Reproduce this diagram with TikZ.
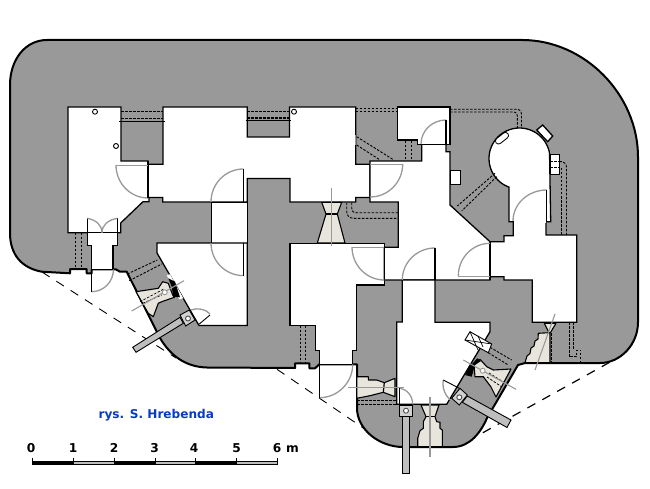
\documentclass[tikz,border=0pt]{standalone}
\usepackage{fontspec}
\setmainfont{DejaVu Sans}
\definecolor{wallgray}{HTML}{999999}
\definecolor{beige}{HTML}{E8E6DC}
\definecolor{bargray}{HTML}{BEBEBE}
\definecolor{signblue}{HTML}{0A3CC0}
\newcommand\doorq[6]{\draw[doorarc] (#1,#2) .. controls ({#1+.5523*(#5-#3)},{#2+.5523*(#6-#4)}) and ({#5+.5523*(#1-#3)},{#6+.5523*(#2-#4)}) .. (#5,#6);}
\tikzset{
 outerw/.style={fill=wallgray,draw=black,line width=2pt,line join=round},
 roomw/.style={fill=white,draw=black,line width=1.3pt,line join=miter},
 thinw/.style={draw=black,line width=1.2pt},
 doorarc/.style={draw=wallgray,line width=1.3pt},
 tube/.style={draw=black,line width=.9pt,dash pattern=on 2.5pt off 1.5pt},
 tubeb/.style={draw=black,line width=1.6pt,dash pattern=on 2.5pt off 1.5pt},
 ruined/.style={fill=beige,draw=black,line width=1.1pt,line join=round},
 sight/.style={draw=wallgray,line width=1.1pt},
 barw/.style={fill=bargray,draw=black,line width=.9pt},
 boxw/.style={fill=bargray!70,draw=black,line width=.9pt},
 pip/.style={circle,fill=white,draw=black,line width=.9pt,inner sep=0pt,minimum size=5pt},
 pipg/.style={circle,fill=white,draw=wallgray,line width=.9pt,inner sep=0pt,minimum size=5pt},
 leader/.style={draw=black,line width=.9pt,dash pattern=on 9pt off 8pt},
 leaderb/.style={draw=black,line width=1.2pt,dash pattern=on 9pt off 8pt},
 lbl/.style={font=\fontsize{12.2}{14}\selectfont\bfseries,inner sep=0pt},
}
\begin{document}
\begin{tikzpicture}[x=1pt,y=-1pt]
\useasboundingbox (0,0) rectangle (650,489);
\fill[white] (0,0) rectangle (650,489);
% leader lines
\draw[leader] (42,272) -- (176,358);
\draw[leader] (277,369.3) -- (364,428.5);
\draw[leaderb] (468,441) -- (612,361);
% outer wall
\draw[outerw] (10,85) .. controls (10,60) and (25,40) .. (47,40) -- (522,40)
 .. controls (585,40) and (638,95) .. (638,157) -- (638,322)
 .. controls (638,345) and (620,363) .. (600,363) -- (525,363) -- (518,365) -- (487,418)
 .. controls (481,432) and (470,447) .. (453,447) -- (403,447)
 .. controls (380,447) and (357,430) .. (357,408) -- (357,364.3) -- (352.7,364.3) -- (319.3,364.3)
 -- (315,368.3) -- (309.3,368.3) -- (309.3,363.3) -- (295,363.3) -- (295,368) -- (207,367.5)
 .. controls (185,367) and (170,355) .. (160,338) -- (126.7,271.7) -- (120,271.7) -- (115.7,269.3)
 -- (91.7,269.3) -- (91.7,273.3) -- (86.7,273.3) -- (86.7,269) -- (70,269) -- (70,273.3) -- (41.7,271.7)
 .. controls (22,268) and (10,255) .. (10,233) -- cycle;
% upper rooms
\draw[roomw] (68,107) -- (121,107) -- (121,161) -- (148,161) -- (148,164.3) -- (163,164.3) -- (163,107)
 -- (247.3,107) -- (247.3,137) -- (289.5,137) -- (289.5,107) -- (355.7,107) -- (355.7,164.3) -- (370,164.3)
 -- (370,197.5) -- (355.7,197.5) -- (355.7,202) -- (290,202) -- (290,178.5) -- (247.3,178.5) -- (247.3,202)
 -- (162.7,202) -- (162.7,197.5) -- (149,197.5) -- (149,201.7) -- (143,201.7) -- (120.7,223) -- (120.7,232.7)
 -- (68,232.7) -- cycle;
\draw[draw=wallgray,line width=1.5pt] (355.7,135.5) -- (355.7,145);
% passage and lower-left room
\draw[roomw,line width=1pt] (211,202) rectangle (247.3,243);
\draw[roomw] (157,243) -- (247.3,243) -- (247.3,325.5) -- (199,325.5) -- (157,253) -- cycle;
% entrance passage on the left
\draw[roomw] (87.3,232.7) -- (117.3,232.7) -- (117.3,245.7) -- (113,245.7) -- (113,269.3) -- (91.7,269.3) -- (91.7,245.7) -- (87.3,245.7) -- cycle;
% middle lower room
\draw[roomw] (290,243.5) -- (384.3,243.5) -- (384.3,285) -- (356.7,285) -- (356.7,350.7) -- (352.7,350.7) -- (352.7,364.3)
 -- (319.3,364.3) -- (319.3,350.7) -- (315.3,350.7) -- (315.3,325.5) -- (290,325.5) -- cycle;
% hall
\draw[roomw] (370,161) -- (421.7,161) -- (421.7,144.3) -- (446,144.3) -- (446,151.7) -- (450,151.7) -- (450,205) -- (490,241.7)
 -- (504,241.7) -- (504,235.7) -- (513.3,235.7) -- (513.3,221.7) -- (546,221.7) -- (546,235) -- (576.7,235) -- (576.7,322.3)
 -- (532.3,322.3) -- (532.3,280) -- (504,280) -- (504,276.7) -- (490,276.7) -- (490,280) -- (384.3,280) -- (384.3,247.3)
 -- (398.3,247.3) -- (398.3,202) -- (370,202) -- cycle;
\draw[thinw] (490,241.7) -- (490,280);
% small top room
\draw[roomw] (397.7,107) -- (450,107) -- (450,144.3) -- (417.7,144.3) -- (417.7,140) -- (397.7,140) -- cycle;
% niche
\draw[roomw,line width=1pt] (450,170.7) rectangle (460,185);
% round room
\draw[roomw,fill=white] (542.7,125) -- (552.7,136) -- (547.7,141.7) -- (536.7,130) -- cycle;
\draw[roomw] (550,154.3) rectangle (559.3,174.3);
\draw[roomw] (509,221.7) -- plot[domain=110:350,samples=50] ({519.5+30.5*cos(\x)},{158.5+30.5*sin(\x)}) -- (550.7,221.7) -- cycle;
\fill[white] (546,221) rectangle (513.9,223);
\draw[line width=7pt,line cap=round,black] (498.5,141) -- (505.5,135.5);
\draw[line width=5pt,line cap=round,white] (498.5,141) -- (505.5,135.5);
% lowest room
\draw[roomw] (402.3,280) -- (435,280) -- (435,322.3) -- (490,322.3) -- (490,331.7) -- (446.7,404.3) -- (396.7,404.3) -- (396.7,322) -- (402.3,322) -- cycle;
% doors
\doorq{116}{165}{148}{165}{148}{198}
\draw[thinw] (148,161) -- (148,198);
\draw[doorarc,line width=.9pt] (116,165) -- (148,165);
\doorq{243.3}{169}{243.3}{202}{211}{202}
\draw[thinw] (243.3,169) -- (243.3,202);
\doorq{211}{243}{243.3}{243}{243.3}{275.6}
\draw[thinw] (243.3,243) -- (243.3,275.6);
\doorq{402.7}{164}{370}{164}{370}{197}
\draw[doorarc,line width=.9pt] (370,164.3) -- (402.7,164.3);
\doorq{421}{144}{446}{144}{446}{120}
\draw[thinw] (446,120) -- (446,144.3);
\doorq{352}{247}{384.3}{247}{384.3}{280}
\draw[doorarc,line width=.9pt] (352,247.3) -- (384.3,247.3);
\doorq{402.3}{280}{435}{280}{435}{248}
\draw[thinw] (435,248) -- (435,280);
\doorq{458.3}{276}{490}{276}{490}{243.3}
\draw[doorarc,line width=.9pt] (458.3,276) -- (490,276);
\doorq{513}{221}{546.7}{221}{546.7}{190}
\draw[thinw] (546.7,190) -- (546.7,221.7);
\draw[thinw] (87.3,218.3) -- (87.3,232.7) (117.3,218.3) -- (117.3,232.7);
\draw[doorarc] (87.3,218.3) .. controls (96,220) and (102,225) .. (102,232.7);
\draw[doorarc] (117.3,218.3) .. controls (108,220) and (102,225) .. (102,232.7);
\doorq{91.7}{291.7}{91.7}{269.3}{113.5}{269.3}
\draw[thinw] (91.7,269.3) -- (91.7,291.7);
\doorq{319.3}{397.7}{319.3}{364.3}{352.7}{364.3}
\draw[thinw] (319.3,364.3) -- (319.3,397.7);
\draw[doorarc] (399.3,388.3) .. controls (407,389) and (412.7,396) .. (412.7,404.3);
\draw[thinw,line width=.9pt] (399.3,388.3) -- (399.3,404.3);
\draw[doorarc] (210,314) .. controls (206,309) and (197,307.5) .. (191,310);
\draw[thinw,line width=.9pt] (199.3,324) -- (210,315);
\draw[doorarc] (443.3,380) .. controls (442,388) and (445,396) .. (451.7,401);
\draw[thinw,line width=.9pt] (443.3,380) -- (459.3,388.3);
% column pips
\node[pip] (p1) at (95,111.7) {};
\node[pip] (p2) at (116,146) {};
\node[pip] (p3) at (294,111.7) {};
% tubes
\draw[tube] (121,111.7) -- (163,111.7);
\draw[tubeb] (121,118.5) -- (163,118.5);
\draw[draw=black,line width=.9pt] (119.3,121) -- (164.7,121);
\draw[tube] (247.3,111.3) -- (289.5,111.3);
\draw[tubeb] (247.3,118) -- (289.5,118);
\draw[draw=black,line width=.9pt] (245.7,120.5) -- (291,120.5);
\draw[tube] (355.7,108.3) -- (398,108.3) (355.7,111.5) -- (398,111.5);
\draw[tube] (356.7,136.7) -- (392.7,159.3) (356.7,145) -- (380,160);
\draw[tube] (405.7,141) -- (405.7,160) (411,141) -- (411,160);
\draw[tube] (450,109.3) -- (516,109.3) .. controls (520,109.3) and (521.5,111) .. (521.5,115) -- (521.5,128);
\draw[tube] (450,112) -- (514,112) .. controls (516.5,112) and (517.3,113.5) .. (517.3,116) -- (517.3,128);
\draw[tube] (495,173.3) -- (457.3,206) (496.7,176.7) -- (461.7,211);
\draw[tube] (550,161.5) -- (559,161.5) (550,167) -- (559,167);
\draw[tube] (559.3,161.7) -- (562,161.7) .. controls (565,162) and (566.5,164) .. (566.5,168) -- (566.5,235);
\draw[tube] (561,168) -- (561,235);
\draw[tube] (569,322) -- (569,356.7) -- (576.7,356.7) -- (576.7,350) -- (580.7,350) -- (580.7,362);
\draw[tube] (573.3,322) -- (573.3,350);
\draw[tube] (346.7,202.7) -- (346.7,211.7) .. controls (346.7,215) and (349,218.3) .. (353.3,218.3) -- (398.3,218.3);
\draw[tube] (351.7,202.7) -- (351.7,208.3) .. controls (351.7,211) and (353,212.7) .. (356.7,212.7) -- (398.3,212.7);
\draw[tube] (300,325.5) -- (300,363) (305,325.5) -- (305,363);
\draw[tube] (75.7,232.7) -- (75.7,269) (81,232.7) -- (81,269);
\draw[tube] (127.3,274) -- (157.3,260) (129.3,280.7) -- (161.7,264);
\draw[tube] (357,400) -- (397,400) (357,404) -- (397,404);
\draw[tube] (490,347.3) -- (511.7,360) (488.3,352.7) -- (508.3,365);
% top embrasure
\draw[ruined] (321.7,202.3) -- (341.7,202.3) -- (337.3,214) -- (345,243) -- (317.3,243) -- (326,214) -- cycle;
\draw[thinw] (326,214) -- (337.3,214);
\draw[sight] (331.5,188) -- (331.5,246);
% left casemate
\fill[white] (166.7,275) -- (170,274.3) -- (183.3,298.3) -- (179.3,299.3) -- cycle;
\draw[ruined] (136,291.7) -- (158.3,288.3) -- (162.7,281.7) -- (168.3,283.3) -- (172.7,295) -- (174.3,297.3) -- (161.7,301.7) -- (158.3,303.3) -- (153.3,316.7) -- (148.3,313.3) -- cycle;
\fill[black] (168.3,278.3) -- (175,281.7) -- (180,297.3) -- (173.3,296.7) -- (171.7,286.7) -- cycle;
\draw[tube,line width=.7pt] (140,301.7) -- (163.3,289.3) (142.7,303.3) -- (161.7,295);
\draw[sight] (131.7,311) -- (184,280.7);
\node[pipg] (c1) at (164.7,292.3) {};
% left bar
\draw[barw] (132.7,347.3) -- (136,352.3) -- (183.3,323.3) -- (180,317.3) -- cycle;
\draw[boxw] (180,315) -- (189.3,310) -- (195,320) -- (185.7,326) -- cycle;
\node[pipg,draw=black!70] (c2) at (188,318.5) {};
% bottom-left embrasure
\draw[ruined] (356.7,376.7) -- (368.3,376.7) -- (368.3,380) -- (376.7,380) -- (384.3,382.7) -- (395,378.3) -- (395,396.7) -- (383.3,392.3) -- (370,395.7) -- (356.7,398.3) -- cycle;
\draw[thinw] (384.3,382.7) -- (383.3,392.3);
\draw[sight] (348,387.3) -- (404,387.3);
% bottom embrasure
\draw[ruined] (421,405) -- (439,405) -- (435,416.7) -- (436.7,421.7) -- (440,422.3) -- (440,428.3) -- (442.3,430) -- (442.3,446.7) -- (417.7,446.7) -- (417.7,438.3) -- (420,430.7) -- (423.3,428.3) -- (423.3,421.7) -- (426,416.7) -- cycle;
\draw[thinw] (426,416.7) -- (435,416.7);
\draw[sight] (430,397.3) -- (430,456.7);
% bottom tube
\draw[barw] (402.3,416) rectangle (409.3,473);
\draw[boxw] (399.3,405) rectangle (412.7,416);
\node[pipg,draw=black!70] (c3) at (406,410.7) {};
% right tube
\draw[barw] (467.3,396) -- (511,420) -- (507,427.5) -- (462.3,402.3) -- cycle;
\draw[boxw] (451.7,398.3) -- (460,388.3) -- (467.3,395) -- (459.3,405) -- cycle;
\node[pipg,draw=black!70] (c4) at (459.3,397.3) {};
% right casemate
\draw[ruined] (525,362.7) -- (527,356) -- (530,353.5) -- (531,348) -- (534,346) -- (535,341) -- (538,339) -- (538.3,333.3) -- (549,332.7) -- (544.3,323.3) -- (556,323.3) -- (550,333.3) -- (550,362.7) -- cycle;
\draw[tube] (551.7,333) -- (551.7,362);
\draw[sight] (535,370) -- (555,314);
\draw[ruined] (474,365) -- (480,359.3) -- (486.7,366.7) -- (493.3,370) -- (511,369) -- (496,397) -- (491,387) -- (483.3,376.7) -- (475,376.7) -- cycle;
\fill[black] (465,375) -- (469.3,366.7) -- (477.3,358.3) -- (481,361) -- (475,365) -- (471.7,376.7) -- cycle;
\draw[tube,line width=.7pt] (489,373) -- (505,383) (487,377) -- (502,387);
\draw[sight] (463.3,360) -- (516,389.3);
\node[pipg] (c5) at (482.7,370.7) {};
\draw[thinw,fill=white,line width=.9pt] (465,340) -- (470,331.7) -- (491.7,344) -- (488.3,352.7) -- cycle;
\draw[black,line width=.7pt] (470,331.7) -- (478,350) (478,336) -- (483,347) (465,340) -- (491.7,344);
% caption
\node[font=\fontsize{12.1}{14}\selectfont\bfseries,text=signblue,inner sep=0pt,anchor=base] (cap) at (156.3,418) {rys. S. Hrebenda};
% scale
\foreach \a/\b in {32.3/73,114/155.3,195.7/236.7} \fill[black] (\a,460.7) rectangle (\b,464.7);
\foreach \a/\b in {73/114,155.3/195.7,236.7/277.7} \draw[black,fill=bargray,line width=.8pt] (\a,461) rectangle (\b,464.3);
\foreach \x in {32.3,73,114,155.3,195.7,236.7,277.7} \draw[black,line width=1pt] (\x,458.3) -- (\x,464.7);
\node[lbl,anchor=base] (s0) at (31,452.7) {0};
\node[lbl,anchor=base] (s1) at (73,452.7) {1};
\node[lbl,anchor=base] (s2) at (114,452.7) {2};
\node[lbl,anchor=base] (s3) at (154.5,452.7) {3};
\node[lbl,anchor=base] (s4) at (194,452.7) {4};
\node[lbl,anchor=base] (s5) at (236.5,452.7) {5};
\node[lbl,anchor=base] (s6) at (277,452.7) {6};
\node[lbl,anchor=base] (sm) at (292.5,452.7) {m};
\end{tikzpicture}
\end{document}
